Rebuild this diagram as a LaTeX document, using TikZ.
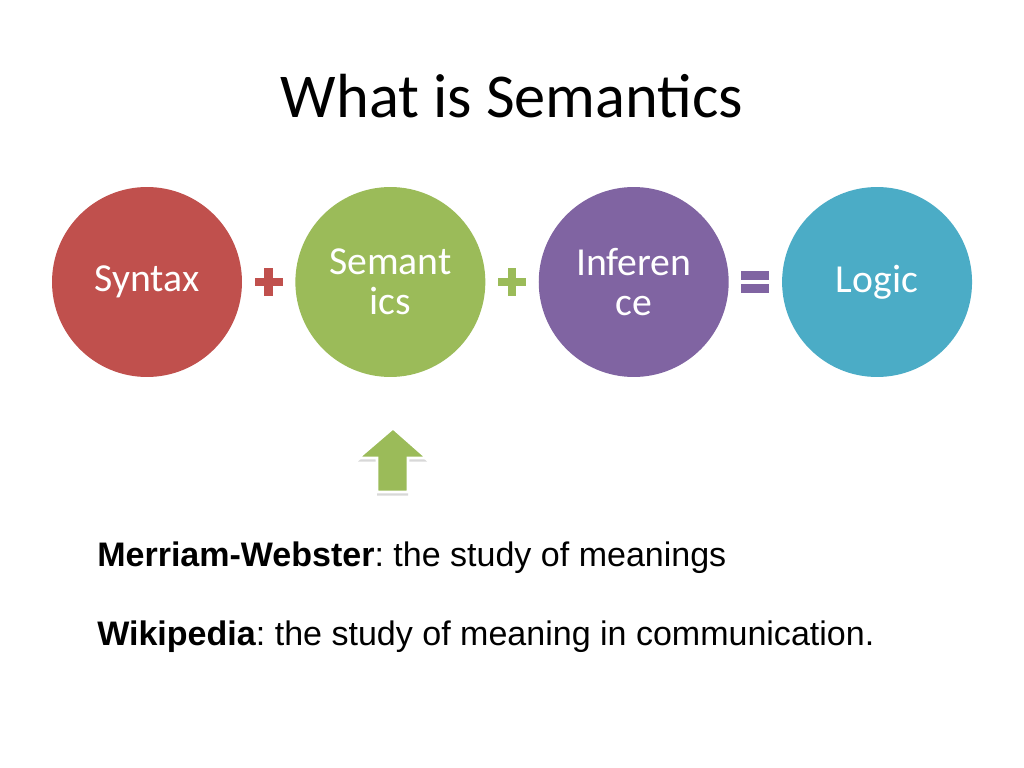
\documentclass[tikz,border=0pt]{standalone}
\usepackage{fontspec}
\setmainfont{Carlito}
\newfontfamily\arialfont{Liberation Sans}
\usepackage{tikz}
\usetikzlibrary{positioning,calc,shadows}
\usepackage{xcolor}
\definecolor{cRed}{RGB}{192,80,77}
\definecolor{cGreen}{RGB}{155,187,89}
\definecolor{cPurple}{RGB}{128,100,162}
\definecolor{cAqua}{RGB}{75,172,198}
\tikzset{
  basecirc/.style={circle,minimum size=4.71cm,inner sep=0pt,align=center,
                   text=white,font=\fontsize{28}{28}\selectfont},
  redcirc/.style={basecirc,fill=cRed},
  greencirc/.style={basecirc,fill=cGreen},
  purplecirc/.style={basecirc,fill=cPurple},
  aquacirc/.style={basecirc,fill=cAqua},
  plusbar/.style={rectangle,inner sep=0pt,minimum width=0.69cm,minimum height=0.22cm},
  eqbar/.style={rectangle,inner sep=0pt,minimum width=0.69cm,minimum height=0.22cm,fill=cPurple},
  deftext/.style={anchor=base west,inner sep=0pt,
                  font=\arialfont\fontsize{24}{28}\selectfont\frenchspacing}
}

\begin{document}
\begin{tikzpicture}[x=0.0248cm,y=-0.0248cm]

  \useasboundingbox[fill=white] (0,0) rectangle (1024,768);

  \node[anchor=base,inner sep=0pt,font=\fontsize{44}{44}\selectfont] (title)
      at (512,118) {What is Semantics};

  % the four circles
  \node[redcirc] (syn) at (147,282) {Syntax};
  \node[greencirc, right=1.31cm of syn] (sem) {Semant\\ics};
  \node[purplecirc, right=1.31cm of sem] (inf) {Inferen\\ce};
  \node[aquacirc, right=1.31cm of inf] (log) {Logic};

  % operators between them
  \node[plusbar,fill=cRed] (plA) at ($(syn)!0.5!(sem)$) {};
  \node[plusbar,fill=cRed,rotate=90] (plAv) at (plA) {};
  \node[plusbar,fill=cGreen] (plB) at ($(sem)!0.5!(inf)$) {};
  \node[plusbar,fill=cGreen,rotate=90] (plBv) at (plB) {};
  \coordinate (eq) at ($(inf)!0.5!(log)$);
  \node[eqbar,yshift=0.17cm] (eqA) at (eq) {};
  \node[eqbar,yshift=-0.17cm] (eqB) at (eq) {};

  % block arrow pointing up at semantics
  \draw[fill=cGreen,draw=white,line width=2pt,
        drop shadow={opacity=0.3,shadow xshift=0pt,shadow yshift=-2.5pt}]
      (393,428) -- (427,458) -- (408,458) -- (408,492)
      -- (377,492) -- (377,458) -- (358,458) -- cycle;

  \node[deftext] (mw) at (97,566)
      {\textbf{Merriam-Webster}: the study of meanings};
  \node[deftext] (wiki) at (97,645)
      {\textbf{Wikipedia}: the study of meaning in communication.};

\end{tikzpicture}
\end{document}
